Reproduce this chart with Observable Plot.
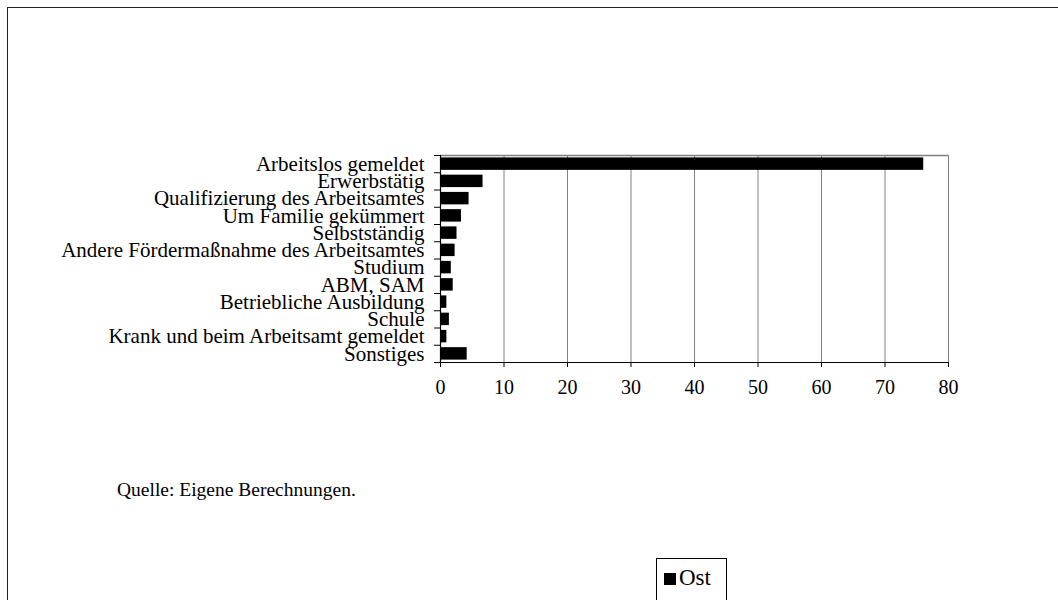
<!DOCTYPE html>
<html>
<head>
<meta charset="utf-8">
<script src="https://cdn.jsdelivr.net/npm/d3@7"></script>
<script src="https://cdn.jsdelivr.net/npm/@observablehq/plot@0.6"></script>
<style>
  html, body { margin: 0; padding: 0; background: #fff; overflow: hidden; }
  #wrap { position: relative; width: 1058px; height: 600px; font-family: "Liberation Serif", "Times New Roman", serif; color: #000; }
  #frame { position: absolute; left: 7px; top: 7px; width: 1200px; height: 800px; border-left: 1.5px solid #222; border-top: 1.5px solid #222; }
  #chart { position: absolute; left: 0; top: 0; }
  #caption { position: absolute; left: 117px; top: 479px; font-size: 19.5px; line-height: 22px; white-space: nowrap; font-family: "Liberation Serif", serif; }
  #legend { position: absolute; left: 656px; top: 558px; width: 71px; height: 60px; border: 1px solid #000; box-sizing: border-box; }
  #legend .sw { position: absolute; left: 7px; top: 14px; width: 12px; height: 12px; background: #000; }
  #legend .lb { position: absolute; left: 22px; top: 7px; font-size: 23px; line-height: 24px; font-family: "Liberation Serif", serif; }
</style>
</head>
<body>
<div id="wrap">
  <div id="frame"></div>
  <div id="chart"></div>
  <div id="caption">Quelle: Eigene Berechnungen.</div>
  <div id="legend"><div class="sw"></div><div class="lb">Ost</div></div>
</div>
<script>
const categories = [
  "Arbeitslos gemeldet",
  "Erwerbstätig",
  "Qualifizierung des Arbeitsamtes",
  "Um Familie gekümmert",
  "Selbstständig",
  "Andere Fördermaßnahme des Arbeitsamtes",
  "Studium",
  "ABM, SAM",
  "Betriebliche Ausbildung",
  "Schule",
  "Krank und beim Arbeitsamt gemeldet",
  "Sonstiges"
];
const ostValues = [76.1, 6.7, 4.5, 3.3, 2.6, 2.3, 1.7, 2.0, 1.0, 1.4, 1.0, 4.2];
const xTicks = [0, 10, 20, 30, 40, 50, 60, 70, 80];
const seriesName = "Ost";

const rows = categories.map((c, i) => ({cat: c, value: ostValues[i], i}));
const n = categories.length;

const chart = Plot.plot({
  width: 1058,
  height: 600,
  marginLeft: 440,
  marginRight: 110,
  marginTop: 155,
  marginBottom: 238,
  style: {background: "transparent", fontFamily: "'Liberation Serif', 'Times New Roman', serif", color: "#000"},
  x: {domain: [0, 80], label: null},
  y: {domain: [n, 0], label: null},
  marks: [
    Plot.gridX(xTicks.filter(t => t > 0), {stroke: "#808080", strokeOpacity: 1, strokeWidth: 1}),
    Plot.ruleY([0], {stroke: "#808080", strokeWidth: 1.5}),
    Plot.rectX(rows, {x1: 0, x2: "value", y1: "i", y2: d => d.i + 1, insetTop: 2.4, insetBottom: 2.4, fill: "#000"}),
    Plot.ruleX([0], {stroke: "#000", strokeWidth: 1.2}),
    Plot.ruleY([n], {stroke: "#000", strokeWidth: 1.2}),
    Plot.axisX(xTicks, {label: null, tickSize: 5, tickPadding: 12, fontSize: 20, stroke: "#000", strokeOpacity: 1, fill: "#000"}),
    Plot.axisY(d3.range(n + 1), {label: null, tickSize: 6, tickFormat: () => "", stroke: "#000", strokeOpacity: 1}),
    Plot.axisY(d3.range(n).map(i => i + 0.5), {label: null, tickSize: 0, tickPadding: 16, fontSize: 21, fill: "#000", tickFormat: v => categories[Math.floor(v)]})
  ]
});
document.getElementById("chart").appendChild(chart);
</script>
</body>
</html>
